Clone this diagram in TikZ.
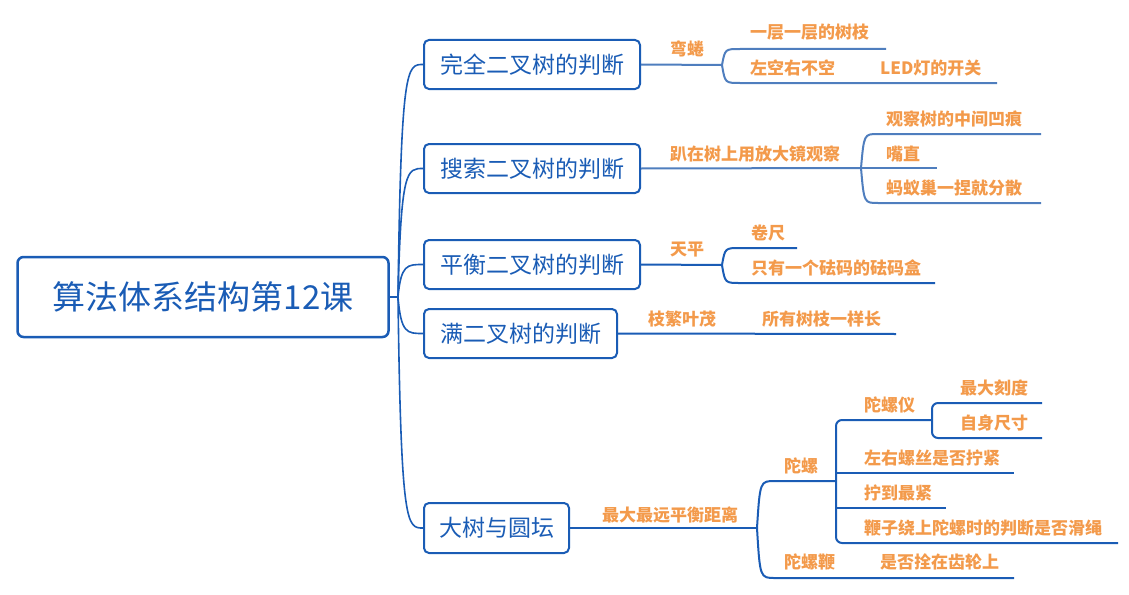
\documentclass[tikz,border=0pt]{standalone}
\usepackage{fontspec}
\setmainfont{Noto Sans CJK SC}
\definecolor{mapblue}{HTML}{1A5CB5}
\definecolor{lineblue}{HTML}{4F7EBE}
\definecolor{tagorange}{HTML}{F39A4B}

\begin{document}
\begin{tikzpicture}[x=1pt, y=-1pt,
    topic/.style={draw=mapblue, line width=2pt, rounded corners=5pt, text=mapblue,
      font=\fontsize{23}{23}\selectfont, minimum height=49pt, inner sep=0pt, anchor=west},
    tag/.style={text=tagorange, font=\bfseries\fontsize{17}{17}\selectfont, inner sep=0pt, anchor=west},
    link/.style={draw=mapblue, line width=2pt},
    lightlink/.style={draw=lineblue, line width=2pt}]
        \useasboundingbox (0,0) rectangle (1129,594);

        \node[draw=mapblue, line width=2.5pt, rounded corners=6pt, text=mapblue, font=\fontsize{33}{33}\selectfont,
          minimum width=371pt, minimum height=80pt] (ALG) at (203,297) {算法体系结构第12课};

        \node[topic, minimum width=216pt] (CB) at (423,64.5) {完全二叉树的判断};
        \node[topic, minimum width=216pt] (SB) at (423,168.5) {搜索二叉树的判断};
        \node[topic, minimum width=216pt] (BB) at (423,264.5) {平衡二叉树的判断};
        \node[topic, minimum width=193pt] (FB) at (423,333.5) {满二叉树的判断};
        \node[topic, minimum width=145pt, minimum height=50pt] (DT) at (423,528) {大树与圆坛};

        \coordinate (H) at (398,297);
        \draw[link, line width=1.6pt] (ALG.east) -- (H);
        \foreach \t in {CB,SB,BB,FB,DT}
            \draw[link, line width=1.6pt] (H) .. controls ([xshift=3pt]H |- \t.west) and ([xshift=9pt]H |- \t.west) .. (\t.west);

        \coordinate (CBb) at (722,65);
        \coordinate (CB1) at (886,49);
        \coordinate (CB2) at (997,83);
        \draw[lightlink] (CB.east) -- (CBb);
        \draw[lightlink] (CBb) .. controls (725,49) .. (740,49) -- (CB1);
        \draw[lightlink] (CBb) .. controls (725,83) .. (740,83) -- (CB2);
        \node[tag] (WQ) at (670,49) {弯蜷};
        \node[tag] (YC) at (750,32) {一层一层的树枝};
        \node[tag] (ZK) at (750,68) {左空右不空};
        \node[tag] (LED) at (880,68) {LED灯的开关};

        \coordinate (SBb) at (861,168);
        \coordinate (SB1) at (1041,134);
        \coordinate (SB2) at (937,168);
        \coordinate (SB3) at (1041,203);
        \draw[lightlink] (SB.east) -- (SBb);
        \draw[lightlink] (SBb) .. controls (864,134) .. (878,134) -- (SB1);
        \draw[lightlink] (SBb) -- (SB2);
        \draw[lightlink] (SBb) .. controls (864,203) .. (878,203) -- (SB3);
        \node[tag] (PZ) at (670,154) {趴在树上用放大镜观察};
        \node[tag] (GC) at (886,119) {观察树的中间凹痕};
        \node[tag] (ZZ) at (886,154) {嘴直};
        \node[tag] (MY) at (886,188) {蚂蚁巢一捏就分散};

        \coordinate (BBb) at (722,265);
        \coordinate (BB1) at (797,248);
        \coordinate (BB2) at (935,283);
        \draw[link] (BB.east) -- (BBb);
        \draw[link] (BBb) .. controls (725,248) .. (740,248) -- (BB1);
        \draw[link] (BBb) .. controls (725,283) .. (740,283) -- (BB2);
        \node[tag] (TP) at (670,250) {天平};
        \node[tag] (JC) at (751,233) {卷尺};
        \node[tag] (FM) at (751,268) {只有一个砝码的砝码盒};

        \coordinate (FB1) at (896,334);
        \draw[link] (FB.east) -- (FB1);
        \node[tag] (ZF) at (648,319) {枝繁叶茂};
        \node[tag] (SY) at (762,319) {所有树枝一样长};

        \coordinate (DTb) at (757,528);
        \coordinate (TL) at (836,481);
        \coordinate (TB) at (1014,578);
        \draw[link] (DT.east) -- (DTb);
        \draw[link] (DTb) .. controls (760,481) .. (775,481) -- (TL);
        \draw[link] (DTb) .. controls (760,578) .. (775,578) -- (TB);
        \node[tag] (ZD) at (602,515) {最大最远平衡距离};
        \node[tag] (TLo) at (784,466) {陀螺};
        \node[tag] (TBi) at (784,562) {陀螺鞭};
        \node[tag] (SF) at (880,562) {是否拴在齿轮上};

        \coordinate (YQ) at (932,420);
        \coordinate (TL1) at (1014,473);
        \coordinate (TL2) at (946,508);
        \coordinate (TL3) at (1118,543);
        \draw[link, rounded corners=6pt] (YQ) -- (TL |- YQ) -- (TL |- TL3) -- (TL3);
        \draw[link] (TL |- TL1) -- (TL1);
        \draw[link] (TL |- TL2) -- (TL2);
        \node[tag] (TLY) at (864,405) {陀螺仪};
        \node[tag] (ZY) at (864,458) {左右螺丝是否拧紧};
        \node[tag] (NZ) at (864,493) {拧到最紧};
        \node[tag] (BZ) at (864,528) {鞭子绕上陀螺时的判断是否滑绳};

        \coordinate (YQ1) at (1042,403);
        \coordinate (YQ2) at (1042,438);
        \draw[link, rounded corners=6pt] (YQ1) -- (YQ |- YQ1) -- (YQ |- YQ2) -- (YQ2);
        \node[tag] (ZDK) at (960,388) {最大刻度};
        \node[tag] (ZS) at (960,423) {自身尺寸};
    \end{tikzpicture}
\end{document}
